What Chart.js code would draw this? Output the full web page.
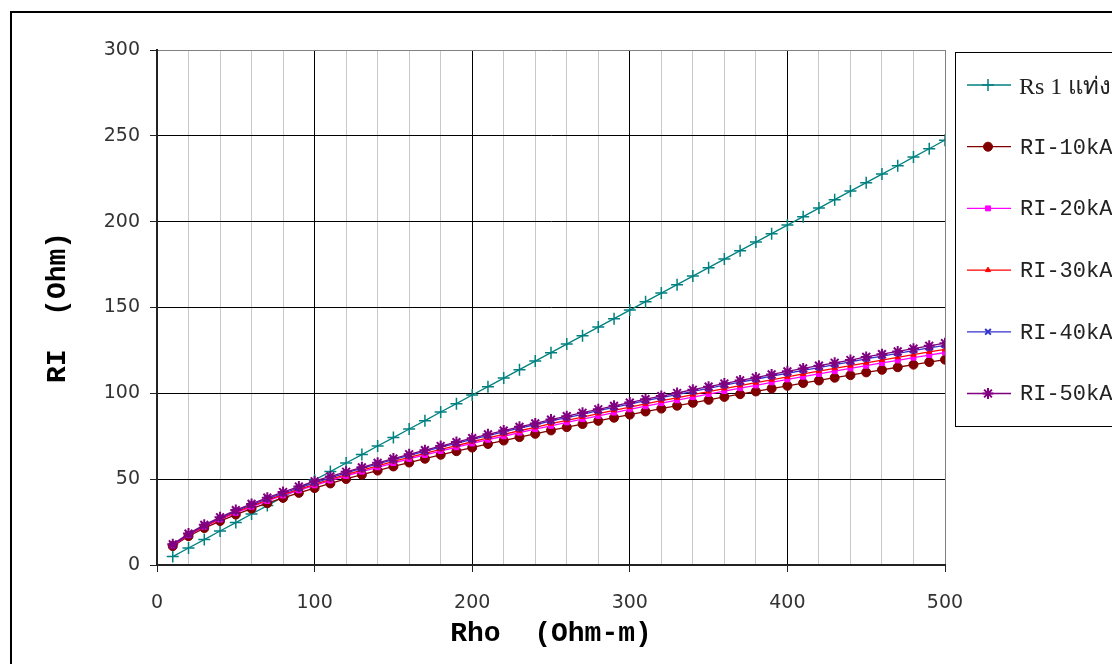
<!DOCTYPE html>
<html>
<head>
<meta charset="utf-8">
<script src="https://cdn.jsdelivr.net/npm/chart.js@4.4.0/dist/chart.umd.min.js"></script>
<style>
    html, body { margin: 0; padding: 0; background: #fff; }
    #wrap { width: 1112px; height: 664px; }
</style>
</head>
<body>
<div id="wrap"><canvas id="rhoChart" width="1112" height="664"></canvas></div>
<script>
//data
const rho = [10, 20, 30, 40, 50, 60, 70, 80, 90, 100, 110, 120, 130, 140, 150, 160, 170, 180, 190, 200,
    210, 220, 230, 240, 250, 260, 270, 280, 290, 300, 310, 320, 330, 340, 350, 360, 370, 380, 390, 400,
    410, 420, 430, 440, 450, 460, 470, 480, 490, 500];

const rs1 = [4.9, 9.9, 14.8, 19.8, 24.7, 29.7, 34.6, 39.6, 44.5, 49.5, 54.4, 59.4, 64.3, 69.3, 74.2, 79.2, 84.1, 89.1, 94.0, 99.0,
    103.9, 108.9, 113.8, 118.8, 123.7, 128.7, 133.6, 138.6, 143.5, 148.5, 153.4, 158.4, 163.3, 168.3, 173.2, 178.2, 183.1, 188.1, 193.0, 198.0,
    202.9, 207.9, 212.8, 217.8, 222.7, 227.7, 232.6, 237.6, 242.5, 247.5];

const ri10 = [11.0, 16.8, 21.5, 25.6, 29.4, 32.8, 36.0, 39.1, 42.0, 44.8, 47.5, 50.1, 52.6, 55.0, 57.4, 59.7, 61.9, 64.2, 66.3, 68.4,
    70.5, 72.5, 74.5, 76.4, 78.4, 80.3, 82.1, 84.0, 85.8, 87.6, 89.4, 91.1, 92.8, 94.5, 96.2, 97.9, 99.5, 101.1, 102.8, 104.4,
    106.0, 107.5, 109.1, 110.6, 112.2, 113.7, 115.2, 116.7, 118.2, 119.6];

const ri20 = [11.4, 17.4, 22.3, 26.5, 30.4, 33.9, 37.3, 40.5, 43.5, 46.4, 49.2, 51.9, 54.4, 56.9, 59.4, 61.8, 64.1, 66.4, 68.6, 70.8,
    73.0, 75.0, 77.1, 79.1, 81.1, 83.1, 85.0, 86.9, 88.8, 90.7, 92.5, 94.3, 96.0, 97.8, 99.6, 101.3, 103.0, 104.6, 106.4, 108.1,
    109.7, 111.3, 112.9, 114.5, 116.1, 117.7, 119.2, 120.8, 122.3, 123.8];

const ri30 = [11.6, 17.6, 22.6, 26.9, 30.9, 34.4, 37.8, 41.1, 44.1, 47.0, 49.9, 52.6, 55.2, 57.8, 60.3, 62.7, 65.0, 67.4, 69.6, 71.8,
    74.0, 76.1, 78.2, 80.2, 82.3, 84.3, 86.2, 88.2, 90.1, 92.0, 93.9, 95.7, 97.4, 99.2, 101.0, 102.8, 104.5, 106.2, 107.9, 109.6,
    111.3, 112.9, 114.6, 116.1, 117.8, 119.4, 121.0, 122.5, 124.1, 125.6];

const ri40 = [11.8, 18.0, 23.0, 27.4, 31.5, 35.1, 38.5, 41.8, 44.9, 47.9, 50.8, 53.6, 56.3, 58.9, 61.4, 63.9, 66.2, 68.7, 70.9, 73.2,
    75.4, 77.6, 79.7, 81.7, 83.9, 85.9, 87.8, 89.9, 91.8, 93.7, 95.7, 97.5, 99.3, 101.1, 102.9, 104.8, 106.5, 108.2, 110.0, 111.7,
    113.4, 115.0, 116.7, 118.3, 120.1, 121.7, 123.3, 124.9, 126.5, 128.0];

const ri50 = [12.1, 18.3, 23.4, 27.8, 32.0, 35.6, 39.2, 42.5, 45.7, 48.8, 51.6, 54.3, 56.9, 59.5, 62.0, 64.5, 66.9, 69.3, 71.6, 73.9,
    76.1, 78.3, 80.5, 82.5, 84.7, 86.7, 88.7, 90.7, 92.7, 94.6, 96.6, 98.4, 100.2, 102.1, 103.9, 105.7, 107.5, 109.2, 111.0, 112.8,
    114.5, 116.1, 117.8, 119.4, 121.2, 122.8, 124.4, 126.0, 127.7, 129.2];

const seriesNames = ['Rs 1 แท่ง', 'RI-10kA', 'RI-20kA', 'RI-30kA', 'RI-40kA', 'RI-50kA'];
//data

const monoFont = '"Courier New", "Liberation Mono", monospace';
const tickFont = { family: '"DejaVu Sans", Verdana, sans-serif', size: 19 };

function pts(values) {
    return rho.map((x, i) => ({ x: x, y: values[i] }));
}

function series(label, values, color, style, radius, width, order) {
    return {
        label: label,
        data: pts(values),
        borderColor: color,
        backgroundColor: color,
        borderWidth: 1.3,
        pointStyle: style,
        pointRadius: radius,
        pointBorderWidth: width,
        pointBorderColor: color,
        pointBackgroundColor: color,
        tension: 0,
        order: order
    };
}

// frame + legend
const frameAndLegend = {
    id: 'frameAndLegend',
    beforeDraw(chart) {
        const ctx = chart.ctx;
        ctx.save();
        ctx.fillStyle = '#fff';
        ctx.fillRect(0, 0, chart.width, chart.height);
        ctx.restore();
    },
    afterDraw(chart) {
        const ctx = chart.ctx;
        ctx.save();
        ctx.strokeStyle = '#000';
        ctx.lineWidth = 2;
        ctx.beginPath();
        ctx.moveTo(11, 700);
        ctx.lineTo(11, 12);
        ctx.lineTo(1200, 12);
        ctx.stroke();

        ctx.lineWidth = 1;
        ctx.strokeRect(955.5, 52.5, 220, 374);

        chart.data.datasets.forEach((ds, i) => {
            const y = 85 + i * 61.7;
            ctx.strokeStyle = ds.borderColor;
            ctx.lineWidth = ds.borderWidth;
            ctx.beginPath();
            ctx.moveTo(967, y);
            ctx.lineTo(1011, y);
            ctx.stroke();
            ctx.fillStyle = ds.pointBackgroundColor;
            ctx.strokeStyle = ds.pointBorderColor;
            ctx.lineWidth = ds.pointBorderWidth;
            Chart.helpers.drawPoint(ctx, {
                pointStyle: ds.pointStyle,
                radius: ds.pointRadius,
                borderWidth: ds.pointBorderWidth,
                rotation: 0
            }, 988, y);
            ctx.fillStyle = '#222';
            if (i === 0) {
                ctx.font = '24px "Liberation Serif", "Times New Roman", serif';
                ctx.textBaseline = 'alphabetic';
                ctx.fillText(ds.label, 1019, y + 9);
            } else {
                ctx.font = '22px ' + monoFont;
                ctx.textBaseline = 'middle';
                ctx.fillText(ds.label, 1020, y + 1);
            }
        });
        ctx.restore();
    }
};

const ctxChart = document.getElementById('rhoChart');
const rhoChart = new Chart(ctxChart, {
    type: 'line',
    data: {
        datasets: [
            series(seriesNames[0], rs1, '#008080', 'cross', 6, 1.5, 6),
            series(seriesNames[1], ri10, '#800000', 'circle', 4.5, 1, 5),
            series(seriesNames[2], ri20, '#FF00FF', 'rect', 3.5, 1, 4),
            series(seriesNames[3], ri30, '#FF0000', 'triangle', 3, 1, 3),
            series(seriesNames[4], ri40, '#3333CC', 'crossRot', 4, 2, 2),
            series(seriesNames[5], ri50, '#800080', 'star', 5.5, 2, 1)
        ]
    },
    options: {
        responsive: false,
        animation: false,
        devicePixelRatio: 1,
        layout: { padding: { left: 0, top: 50, right: 167, bottom: 0 } },
        plugins: {
            legend: { display: false },
            tooltip: { enabled: false }
        },
        scales: {
            x: {
                type: 'linear',
                min: 0,
                max: 500,
                afterFit: s => { s.height = 99; },
                ticks: {
                    stepSize: 20,
                    autoSkip: false,
                    maxRotation: 0,
                    padding: 20,
                    color: '#333',
                    font: tickFont,
                    callback: v => (v % 100 === 0 ? v : '')
                },
                grid: {
                    color: c => c.tick.value === 500 ? '#808080' : (c.tick.value % 100 === 0 ? '#000' : '#c8c8c8'),
                    tickColor: c => (c.tick.value % 100 === 0 ? '#222' : 'rgba(0,0,0,0)'),
                    tickLength: 7,
                    lineWidth: 1
                },
                border: { color: '#222', width: 2 },
                title: {
                    display: true,
                    text: 'Rho  (Ohm-m)',
                    color: '#000',
                    font: { family: monoFont, size: 28, weight: 'bold' },
                    padding: { top: 0, bottom: 13 }
                }
            },
            y: {
                min: 0,
                max: 300,
                afterFit: s => { s.width = 157; },
                ticks: {
                    stepSize: 50,
                    padding: 10,
                    color: '#333',
                    font: tickFont
                },
                grid: {
                    color: c => (c.tick.value === 300 ? '#808080' : '#000'),
                    tickColor: '#222',
                    tickLength: 7,
                    lineWidth: 1
                },
                border: { color: '#222', width: 2 },
                title: {
                    display: true,
                    text: 'RI  (Ohm)',
                    color: '#000',
                    font: { family: monoFont, size: 28, weight: 'bold' },
                    padding: { top: 41, bottom: 0 }
                }
            }
        }
    },
    plugins: [frameAndLegend]
});
</script>
</body>
</html>
